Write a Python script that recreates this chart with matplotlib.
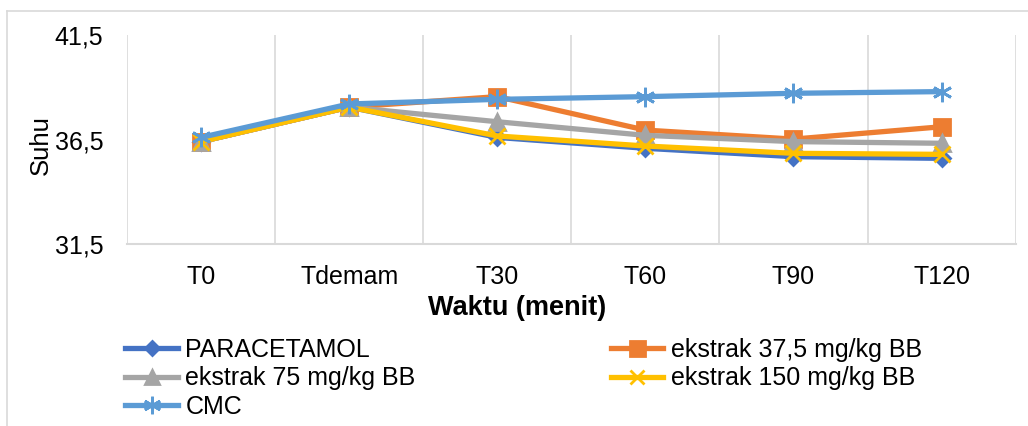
import matplotlib
matplotlib.use("Agg")
import matplotlib.pyplot as plt
from matplotlib.lines import Line2D

plt.rcParams['font.family'] = ['Liberation Sans', 'DejaVu Sans']

# data
waktu = ['T0', 'Tdemam', 'T30', 'T60', 'T90', 'T120']
paracetamol = [36.4, 38.05, 36.6, 36.08, 35.68, 35.6]
ekstrak_375 = [36.4, 38.05, 38.55, 36.95, 36.52, 37.11]
ekstrak_75 = [36.4, 38.05, 37.35, 36.7, 36.4, 36.32]
ekstrak_150 = [36.4, 38.05, 36.67, 36.19, 35.84, 35.79]
cmc = [36.6, 38.2, 38.42, 38.55, 38.71, 38.79]

yticks = [31.5, 36.5, 41.5]
ytick_labels = ['31,5', '36,5', '41,5']

series = [
    ('PARACETAMOL', paracetamol, '#4472C4', 'D', 8),
    ('ekstrak 37,5 mg/kg BB', ekstrak_375, '#ED7D31', 's', 12),
    ('ekstrak 75 mg/kg BB', ekstrak_75, '#A5A5A5', '^', 11),
    ('ekstrak 150 mg/kg BB', ekstrak_150, '#FFC000', 'x', 11),
    ('CMC', cmc, '#5B9BD5', (6, 2, 0), 14),
]

fig = plt.figure(figsize=(10.28, 4.26), dpi=100)
ax = fig.add_axes([0.1235, 0.427, 0.8645, 0.491])

x = list(range(len(waktu)))
handles = []
for name, vals, col, mk, ms in series:
    ax.plot(x, vals, color=col, lw=3.8, marker=mk, markersize=ms,
            markeredgecolor=col, markerfacecolor=col, markeredgewidth=2,
            zorder=3)
    handles.append(Line2D([], [], color=col, lw=3.8, marker=mk,
                          markersize=ms * 0.9, markeredgecolor=col,
                          markerfacecolor=col, markeredgewidth=2, label=name))

ax.set_xlim(-0.5, len(waktu) - 0.5)
ax.set_ylim(31.5, 41.5)
ax.set_yticks(yticks)
ax.set_yticklabels(ytick_labels, fontsize=18)
ax.set_xticks(x)
ax.set_xticklabels(waktu, fontsize=18)
ax.tick_params(length=0)
ax.tick_params(axis='y', pad=17)
ax.tick_params(axis='x', pad=15)

# vertical gridlines between categories
for b in [i - 0.5 for i in range(len(waktu) + 1)]:
    ax.axvline(b, color='#D9D9D9', lw=1.2, zorder=1)
for s in ['top', 'right', 'left']:
    ax.spines[s].set_visible(False)
ax.spines['bottom'].set_color('#D9D9D9')
ax.spines['bottom'].set_linewidth(1.5)

fig.text(0.503, 0.277, 'Waktu (menit)', fontsize=19.5, fontweight='bold',
         ha='center', va='center')
fig.text(0.040, 0.66, 'Suhu', rotation=90, fontsize=18.5,
         ha='center', va='center')

# legend laid out row by row in two columns, like the original
legend_kw = dict(loc='upper left', frameon=False, fontsize=18,
                 handlelength=2.1, handletextpad=0.3, labelspacing=0.18,
                 borderaxespad=0, borderpad=0)
col1 = [handles[0], handles[2], handles[4]]
col2 = [handles[1], handles[3]]
fig.legend(col1, [h.get_label() for h in col1],
           bbox_to_anchor=(0.122, 0.207), **legend_kw)
fig.legend(col2, [h.get_label() for h in col2],
           bbox_to_anchor=(0.594, 0.207), **legend_kw)

# outer chart border
fig.add_artist(Line2D([0.007, 0.007], [0, 0.974], color='#D9D9D9', lw=1.2,
                      transform=fig.transFigure))
fig.add_artist(Line2D([0.007, 1.0], [0.974, 0.974], color='#D9D9D9', lw=1.2,
                      transform=fig.transFigure))

fig.savefig('out.png', dpi=100)
